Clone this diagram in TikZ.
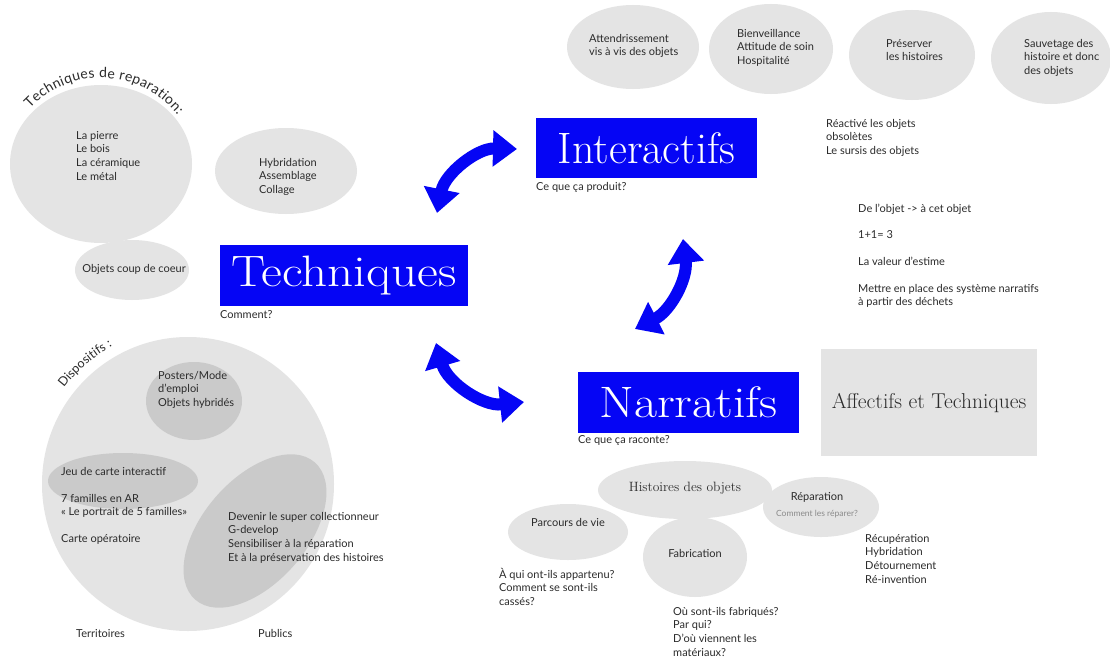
\documentclass[tikz,border=0pt]{standalone}
\usepackage{fontspec}
\newfontfamily\body{Lato}
\usetikzlibrary{shapes.geometric,arrows.meta,decorations.text}
\definecolor{lg}{HTML}{E4E4E4}
\definecolor{dg}{HTML}{CACACA}
\definecolor{bl}{HTML}{0505F5}
\definecolor{txtc}{HTML}{2B2B2B}
\definecolor{gtxt}{HTML}{8A8A8A}
\begin{document}
\begin{tikzpicture}[x=1pt,y=1pt,
 blob/.style={ellipse, fill=lg, inner sep=0pt},
 dblob/.style={ellipse, fill=dg, inner sep=0pt},
 txt/.style={font=\body\fontsize{11}{13.6}\selectfont, text=txtc, align=left, inner sep=0pt, anchor=north west},
 ctxt/.style={font=\body\fontsize{11}{13.6}\selectfont, text=txtc, inner sep=0pt},
 bluebox/.style={fill=bl, text=white, inner sep=0pt, font=\fontsize{44}{44}\selectfont},
 dbl/.style={line width=12pt, draw=bl, {Triangle[length=24pt,width=35pt]}-{Triangle[length=24pt,width=35pt]}},
]
\useasboundingbox (0,0) rectangle (1110,-661);
\fill[white] (0,0) rectangle (1110,-661);

% --- Techniques de reparation
\node[blob, minimum width=182pt, minimum height=158pt] (rep) at (101,-164) {};
\path[decorate, decoration={text along path, text color=txtc,
  text={|\body\fontsize{14}{14}\selectfont|Techniques de reparation:}, text align={fit to path}}]
  (101,-175) ++(137:97) arc[start angle=137, end angle=38, radius=97pt];
\node[txt] (rept) at (76,-131) {La pierre\\Le bois\\La céramique\\Le métal};
\node[blob, minimum width=142pt, minimum height=86pt] (hyb) at (286,-171) {};
\node[txt] (hybt) at (259,-158) {Hybridation\\Assemblage\\Collage};
\node[blob, minimum width=114pt, minimum height=60pt] (coup) at (132,-270) {};
\node[ctxt] (coupt) at (134,-269) {Objets coup de coeur};

% --- Dispositifs
\node[blob, minimum width=292pt, minimum height=294pt] (disp) at (188,-484) {};
\path[decorate, decoration={text along path, text color=txtc,
  text={|\body\fontsize{12.5}{12.5}\selectfont|Dispositifs :}, text align=center}]
  (188,-484) ++(147:157) arc[start angle=147, end angle=114, radius=157pt];
\node[dblob, minimum width=96pt, minimum height=78pt] (post) at (194,-401) {};
\node[dblob, minimum width=150pt, minimum height=56pt] (jeu) at (123,-481) {};
\node[dblob, rotate=49, minimum width=182pt, minimum height=104pt] (pub) at (255,-531) {};
\node[txt] (postt) at (158,-371) {Posters/Mode\\d’emploi\\Objets hybridés};
\node[txt] (jeut) at (61,-467) {Jeu de carte interactif};
\node[txt] (famt) at (61,-494) {7 familles en AR\\« Le portrait de 5 familles»};
\node[txt] (cartet) at (61,-534) {Carte opératoire};
\node[txt] (pubt) at (228,-512) {Devenir le super collectionneur\\G-develop\\Sensibiliser à la réparation\\Et à la préservation des histoires};
\node[txt] (terr) at (76,-629) {Territoires};
\node[txt] (publ) at (258,-629) {Publics};

% --- Main boxes
\node[bluebox, minimum width=248pt, minimum height=61pt] (tech) at (344,-275.5) {\scalebox{1.16}[1]{Techniques}};
\node[txt] (techq) at (220,-310) {Comment?};
\node[bluebox, minimum width=221pt, minimum height=60pt] (inter) at (646.5,-148) {Interactifs};
\node[txt] (interq) at (536,-182) {Ce que ça produit?};
\node[bluebox, minimum width=221pt, minimum height=61pt] (narr) at (688.5,-402.5) {\scalebox{1.14}[1]{Narratifs}};
\node[txt] (narrq) at (578,-435) {Ce que ça raconte?};
\node[fill=lg, minimum width=216pt, minimum height=107pt, inner sep=0pt, text=txtc,
  font=\fontsize{21.5}{21.5}\selectfont] (aff) at (929,-402.5) {Affectifs et Techniques};

% --- Arrows
\coordinate (a1s) at (437,-213); \coordinate (a1e) at (517,-149);
\draw[dbl] (a1s) to[bend left=40] (a1e);
\coordinate (a2s) at (683,-239); \coordinate (a2e) at (635,-329);
\draw[dbl] (a2s) to[bend left=35] (a2e);
\coordinate (a3s) at (436,-343); \coordinate (a3e) at (524,-402);
\draw[dbl] (a3s) to[bend right=40] (a3e);

% --- Top ellipses
\node[blob, minimum width=132pt, minimum height=84pt] (e1) at (633,-47) {};
\node[txt] (e1t) at (589,-34) {Attendrissement\\vis à vis des objets};
\node[blob, minimum width=124pt, minimum height=90pt] (e2) at (771,-49) {};
\node[txt] (e2t) at (737,-29) {Bienveillance\\Attitude de soin\\Hospitalité};
\node[blob, minimum width=126pt, minimum height=90pt] (e3) at (912,-55) {};
\node[txt] (e3t) at (886,-39) {Préserver\\les histoires};
\node[blob, minimum width=120pt, minimum height=92pt] (e4) at (1051,-58) {};
\node[txt] (e4t) at (1024,-39) {Sauvetage des\\histoire et donc\\des objets};
\node[txt] (react) at (826,-119) {Réactivé les objets\\obsolètes\\Le sursis des objets};

% --- Right text block
\node[txt] (r1) at (858,-204) {De l’objet -> à cet objet};
\node[txt] (r2) at (858,-230) {1+1= 3};
\node[txt] (r3) at (858,-257) {La valeur d’estime};
\node[txt] (r4) at (858,-284) {Mettre en place des système narratifs\\à partir des déchets};

% --- Histoires des objets
\node[blob, minimum width=120pt, minimum height=56pt] (parc) at (568,-532) {};
\node[blob, minimum width=174pt, minimum height=58pt] (hist) at (685,-490) {};
\node[blob, minimum width=104pt, minimum height=80pt] (fab) at (695,-557) {};
\node[blob, minimum width=116pt, minimum height=60pt] (repa) at (821,-507) {};
\node[text=txtc, inner sep=0pt, font=\fontsize{13.5}{13.5}\selectfont] (histt) at (685,-488) {Histoires des objets};
\node[ctxt] (parct) at (568,-522) {Parcours de vie};
\node[ctxt] (fabt) at (695,-553) {Fabrication};
\node[ctxt] (repat) at (817,-497) {Réparation};
\node[inner sep=0pt, text=gtxt, font=\body\fontsize{8.5}{9}\selectfont] (repaq) at (817,-514) {Comment les réparer?};
\node[txt] (parcq) at (499,-568) {À qui ont-ils appartenu?\\Comment se sont-ils\\cassés?};
\node[txt] (fabq) at (673,-607) {Où sont-ils fabriqués?\\Par qui?\\D’où viennent les\\matériaux?};
\node[txt] (repal) at (865,-534) {Récupération\\Hybridation\\Détournement\\Ré-invention};
\end{tikzpicture}
\end{document}
